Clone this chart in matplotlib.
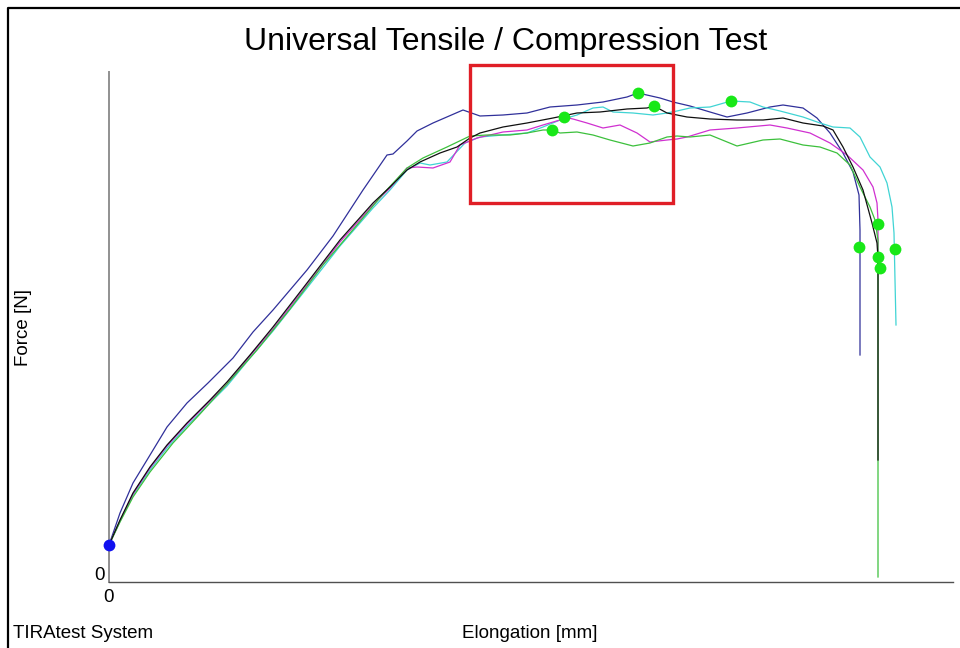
import matplotlib.pyplot as plt
from matplotlib.lines import Line2D
from matplotlib.patches import Rectangle

plt.rcParams["font.family"] = ["Liberation Sans", "DejaVu Sans"]

# elongation [mm] / force [N] for the five specimens
navy_x = [0, 0.22, 0.48, 0.76, 1.16, 1.56, 1.98, 2.48, 2.88, 3.28,
          3.96, 4.48, 5.08, 5.56, 5.68, 5.96, 6.16, 6.48, 7.08, 7.42,
          7.88, 8.36, 8.82, 9.36, 9.88, 10.36, 10.58, 11.02, 11.28, 11.62,
          12.02, 12.36, 12.76, 13.22, 13.48, 13.88, 14.16, 14.42, 14.68, 14.88,
          15.00, 15.02, 15.02]
navy_f = [37, 69, 99, 122, 155, 179, 199, 224, 250, 272,
          312, 346, 392, 427, 428, 441, 451, 459, 472, 466,
          467, 469, 475, 477, 480, 485, 489, 484, 480, 476,
          470, 465, 469, 475, 477, 474, 464, 449, 429, 410,
          387, 352, 227]

black_x = [0, 0.22, 0.48, 0.82, 1.16, 1.56, 2.02, 2.36, 2.82, 3.28,
           3.96, 4.62, 5.28, 5.62, 5.96, 6.22, 6.62, 6.96, 7.22, 7.42,
           7.88, 8.36, 8.88, 9.36, 9.82, 10.36, 10.76, 10.90, 11.16, 11.56,
           12.02, 12.56, 13.08, 13.48, 13.88, 14.28, 14.48, 14.68, 14.88, 15.08,
           15.26, 15.36, 15.38, 15.38]
black_f = [37, 62, 89, 115, 137, 159, 182, 200, 227, 255,
           299, 342, 379, 395, 412, 420, 429, 435, 444, 449,
           455, 459, 464, 469, 470, 473, 474, 476, 469, 465,
           463, 462, 462, 464, 459, 456, 452, 435, 415, 392,
           359, 339, 324, 122]

magenta_x = [0, 0, 0.22, 0.48, 0.82, 1.16, 1.56, 2.02, 2.36, 2.82, 3.28,
             3.96, 4.62, 5.28, 5.62, 5.96, 6.16, 6.48, 6.82, 7.02, 7.36,
             7.88, 8.36, 8.68, 9.02, 9.10, 9.28, 9.56, 9.88, 10.22, 10.56,
             10.82, 11.16, 11.36, 11.56, 12.02, 12.56, 13.22, 13.56, 14.02, 14.42,
             14.76, 15.08, 15.28, 15.36, 15.38, 15.38]
magenta_f = [0, 37, 61, 88, 114, 136, 158, 181, 198, 226, 253,
             297, 340, 377, 394, 414, 415, 414, 420, 437, 444,
             450, 452, 457, 462, 465, 463, 459, 454, 457, 449,
             440, 442, 443, 445, 452, 454, 457, 454, 449, 439,
             427, 412, 395, 379, 362, 327]

cyan_x = [0, 0.22, 0.48, 0.82, 1.16, 1.56, 2.02, 2.36, 2.82, 3.28,
          3.96, 4.62, 5.28, 5.62, 5.96, 6.22, 6.42, 6.76, 7.12, 7.42,
          7.88, 8.36, 8.68, 9.02, 9.36, 9.68, 9.88, 10.08, 10.48, 10.88,
          11.16, 11.36, 11.62, 12.02, 12.44, 12.82, 13.08, 13.42, 13.88, 14.22,
          14.48, 14.82, 15.02, 15.22, 15.42, 15.56, 15.66, 15.70, 15.72, 15.74]
cyan_f = [37, 61, 87, 112, 134, 156, 179, 196, 224, 251,
          294, 336, 374, 392, 412, 419, 417, 420, 439, 445,
          447, 449, 455, 462, 467, 474, 475, 470, 469, 467,
          469, 471, 474, 475, 481, 480, 475, 471, 465, 459,
          455, 454, 445, 425, 415, 399, 375, 349, 302, 257]

green_x = [0, 0.22, 0.48, 0.82, 1.28, 1.82, 2.36, 2.96, 3.62, 4.28,
           4.96, 5.48, 5.96, 6.28, 6.76, 7.22, 7.56, 8.02, 8.36, 8.68,
           8.86, 9.02, 9.36, 9.68, 10.02, 10.48, 10.82, 11.16, 11.36, 11.62,
           12.02, 12.56, 13.08, 13.42, 13.88, 14.22, 14.56, 14.82, 15.02, 15.22,
           15.32, 15.38, 15.38]
green_f = [37, 60, 85, 110, 139, 168, 198, 232, 273, 317,
           357, 388, 414, 424, 435, 446, 447, 447, 449, 452,
           452, 449, 450, 447, 442, 436, 439, 445, 446, 445,
           447, 436, 442, 443, 437, 435, 429, 417, 395, 375,
           362, 342, 5]

# Fmax and break points
max_x = [10.58, 10.90, 9.10, 12.44, 8.86]
max_f = [489, 476, 465, 481, 452]
break_x = [15.00, 15.42, 15.38, 15.72, 15.38]
break_f = [335, 314, 325, 333, 358]
start_x = [0]
start_f = [37]

# highlighted range (elongation min/max, force min/max)
box_x = [7.22, 11.28]
box_f = [379, 517]

X_MAX = 16.88
F_MAX = 510

W, H = 960, 648
fig = plt.figure(figsize=(W / 100, H / 100), dpi=100)
ax = fig.add_axes([109 / W, 66 / H, 844 / W, 510 / H])

ax.plot(navy_x, navy_f, color="#30309a", lw=0.9)
ax.plot(cyan_x, cyan_f, color="#40d4d4", lw=0.9)
ax.plot(magenta_x, magenta_f, color="#d030d0", lw=0.9)
ax.plot(green_x, green_f, color="#3cc03c", lw=0.9)
ax.plot(black_x, black_f, color="#101010", lw=0.9)

ax.plot(max_x, max_f, "o", color="#18e818", ms=8.5, mec="none", clip_on=False, zorder=5)
ax.plot(break_x, break_f, "o", color="#18e818", ms=8.5, mec="none", clip_on=False, zorder=5)
ax.plot(start_x, start_f, "o", color="#1010f0", ms=8.5, mec="none", clip_on=False, zorder=5)

ax.add_patch(Rectangle((box_x[0], box_f[0]), box_x[1] - box_x[0], box_f[1] - box_f[0],
                       fill=False, ec="#e01e26", lw=2.4, clip_on=False, zorder=6))

ax.set_xlim(0, X_MAX)
ax.set_ylim(0, F_MAX)
ax.set_xticks([])
ax.set_yticks([])
for side in ["top", "right"]:
    ax.spines[side].set_visible(False)
ax.spines["left"].set_color("#909090")
ax.spines["left"].set_linewidth(1.4)
ax.spines["bottom"].set_color("#505050")
ax.spines["bottom"].set_linewidth(1.0)

# outer frame (left and top edges)
fig.add_artist(Line2D([8 / W, 8 / W, 1], [0, 1 - 8 / H, 1 - 8 / H],
                      transform=fig.transFigure, color="black", lw=1.6))

fig.text(506 / W, 1 - 42 / H, "Universal Tensile / Compression Test",
         ha="center", va="center", fontsize=23)
fig.text(24 / W, 1 - 328 / H, "Force [N]", rotation=90,
         ha="center", va="center", fontsize=13.5)
fig.text(530 / W, 1 - 634 / H, "Elongation [mm]", ha="center", va="center", fontsize=13.5)
fig.text(13 / W, 1 - 634 / H, "TIRAtest System", ha="left", va="center", fontsize=13.5)
fig.text(105 / W, 1 - 576 / H, "0", ha="right", va="center", fontsize=13.5)
fig.text(109 / W, 1 - 597 / H, "0", ha="center", va="center", fontsize=13.5)

fig.savefig("out.png", dpi=100)
